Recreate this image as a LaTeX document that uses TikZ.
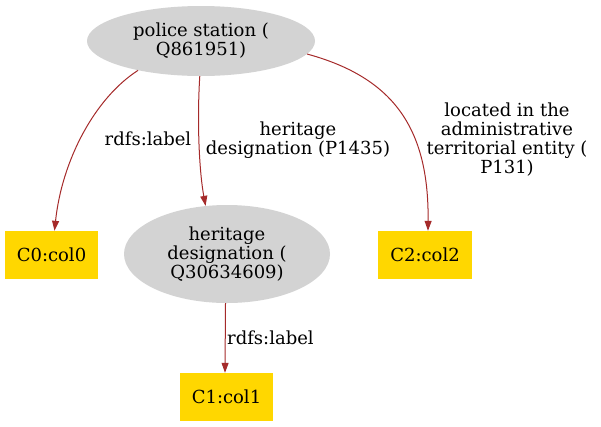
\documentclass[tikz,border=0pt]{standalone}
\usepackage{fontspec}
\setmainfont{DejaVu Serif}
\usetikzlibrary{shapes.geometric,arrows.meta}
\definecolor{edgebrown}{HTML}{A52A2A}
\definecolor{nodegray}{HTML}{D3D3D3}
\definecolor{nodegold}{HTML}{FFD700}
\begin{document}
\begin{tikzpicture}[x=1pt,y=-1pt,
  every node/.style={font=\fontsize{18}{19}\selectfont, align=center, inner sep=0pt},
  entity/.style={ellipse, fill=nodegray},
  literal/.style={rectangle, fill=nodegold},
  rel/.style={draw=edgebrown, line width=1pt, -{Triangle[length=10pt,width=7pt]}, color=edgebrown},
  lbl/.style={text=black}
]
\useasboundingbox (0,0) rectangle (601,426);
\node[entity, minimum width=228pt, minimum height=70pt] (police) at (201,41) {police station (\\Q861951)};
\node[entity, minimum width=206pt, minimum height=98pt] (herit) at (227,254) {heritage\\designation (\\Q30634609)};
\node[literal, minimum width=93pt, minimum height=48pt] (c0) at (51.5,255) {C0:col0};
\node[literal, minimum width=93pt, minimum height=48pt] (c1) at (226.5,397) {C1:col1};
\node[literal, minimum width=94pt, minimum height=48pt] (c2) at (425,255) {C2:col2};

\draw[rel] (police.205) .. controls (95,98) and (62,160) .. ([xshift=3pt]c0.north);
\draw[rel] (police.268) .. controls (197,120) and (199,170) .. (herit.114);
\draw[rel] (police.353) .. controls (395,78) and (429,130) .. ([xshift=3pt]c2.north);
\draw[rel] ([xshift=-1.5pt]herit.south) -- ([xshift=-1.5pt]c1.north);

\node[lbl] (l0) at (148,139) {rdfs:label};
\node[lbl] (l1) at (298,140) {heritage\\designation (P1435)};
\node[lbl] (l2) at (507,140) {located in the\\administrative\\territorial entity (\\P131)};
\node[lbl, anchor=west] (l3) at (227,338) {rdfs:label};
\end{tikzpicture}
\end{document}
